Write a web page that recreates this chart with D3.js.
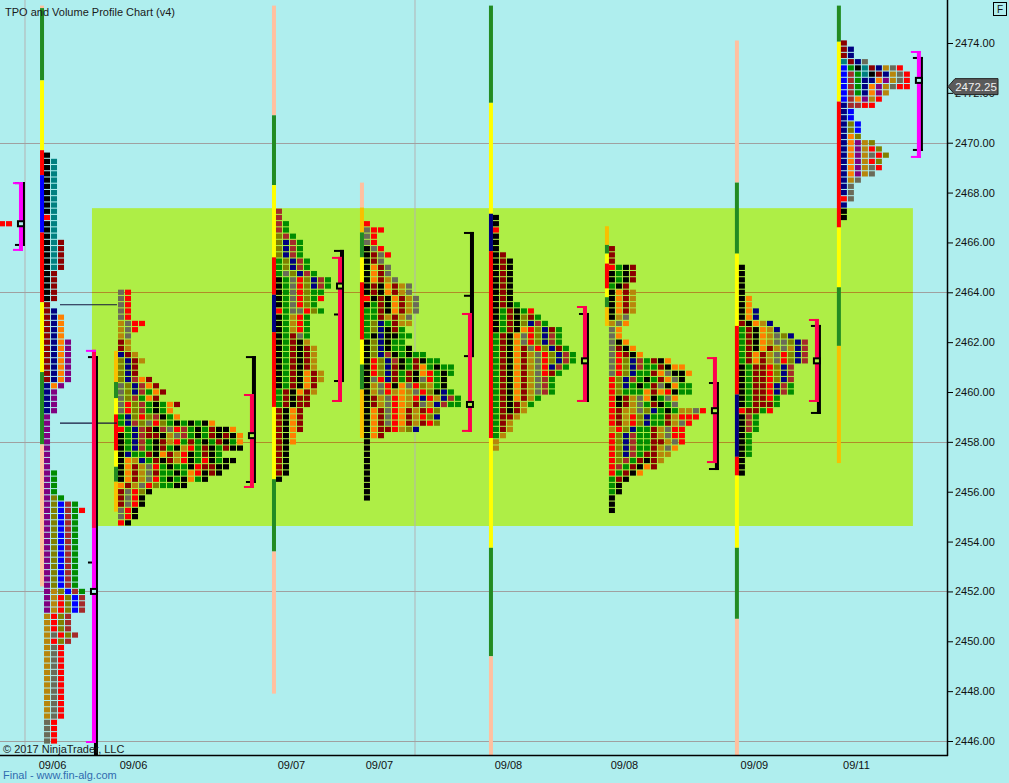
<!DOCTYPE html>
<html>
<head>
<meta charset="utf-8">
<script src="https://cdn.jsdelivr.net/npm/d3@7"></script>
<style>
  html, body { margin: 0; padding: 0; background: #afeeee; overflow: hidden; }
  svg { display: block; font-family: Arial, "Liberation Sans", sans-serif; }
</style>
</head>
<body>
<svg id="chart" width="1009" height="783"></svg>
<script>
// --- axes ---
const priceTicks = [2446, 2448, 2450, 2452, 2454, 2456, 2458, 2460, 2462, 2464, 2466, 2468, 2470, 2472, 2474];
const dateLabels = ["09/06", "09/06", "09/07", "09/07", "09/08", "09/08", "09/09", "09/11"];
const dateCols = [7.43, 19, 41.57, 54.14, 72.57, 89.14, 107.71, 122.29];

// --- profiles (Z = the one cut off on the left) ---
const profileCols = [-0.14, 6.29, 16.86, 39.43, 52, 70.43, 87, 105.57, 120.14];
const profileTops = [2466.75, 2469.5, 2464, 2467.25, 2466.75, 2467, 2465.75, 2465, 2474];

// rows as [row count, period letters] from the top price down, 0.25 per row
const tpoZ = [[1, "rr"]];
const tpoA = [[1, "k"], [9, "kt"], [1, "rt"], [3, "kt"], [5, "ktR"], [5, "kR"], [1, "R"], [1, "Rn"], [4, "Rno"],
  [7, "Rnop"], [1, "nop"], [4, "np"], [9, "p"], [4, "pg"], [1, "pvg"], [1, "pvbBg"], [1, "pvbBgr"], [12, "pvbBg"],
  [1, "pyvbBg"], [3, "pyrvbB"], [3, "yrvB"], [1, "yGrvB"], [1, "yrvB"], [12, "yGr"], [4, "Gr"]];
const tpoB = [[5, "Gr"], [1, "yGrr"], [1, "yGr"], [1, "yG"], [2, "Ry"], [1, "nRy"], [1, "vnRy"], [2, "vnR"],
  [1, "vnBoR"], [1, "GvnBoR"], [1, "GvnBgoR"], [1, "GvBgoR"], [1, "GrvBgkgoR"], [1, "GrvBgkgo"], [1, "gnvrvBkgo"],
  [1, "gnBvGrvgkgkgko"], [1, "rgnBRkBGrBgkgRkko"], [1, "kgnBRRkyGBgkgRkRko"], [1, "kgnBgkRyrgRgkgRkgo"],
  [1, "kgnBgkRgkyrgRkgRkk"], [1, "knggRkoRyrkgRkg"], [1, "koyngRkRyrkgrkgkk"], [1, "koRyGrgkggkrRRkk"],
  [1, "koRyGRggkgorkRk"], [1, "koRyGrgkgkogk"], [1, "oRyGrvggkk"], [1, "RGrvk"], [2, "RGrk"], [2, "Grk"], [1, "rk"]];
const tpoC = [[2, "B"], [2, "Bg"], [1, "vBg"], [3, "vnBg"], [2, "gvnBg"], [1, "gGvnBg"], [2, "kgGrvnBg"],
  [1, "kgGrvgg"], [1, "kgGrvgr"], [1, "kgGrvg"], [1, "rgGGrvg"], [3, "kgyrg"], [1, "kgRGg"], [1, "kgRky"],
  [4, "kgRkRy"], [2, "kgRkoRy"], [1, "kgRkoR"], [1, "gRkoRy"], [2, "gRkRR"], [4, "RkoR"], [2, "Rko"], [5, "Rk"], [1, "k"]];
const tpoD = [[1, "r"], [1, "Grr"], [2, "Gr"], [1, "kGr"], [1, "kRGr"], [1, "kRG"], [2, "koRG"], [1, "koRyG"],
  [2, "kRkoRyG"], [1, "rkRkoRyG"], [1, "kgRkoRyG"], [1, "ggRkoRyG"], [1, "ggRyRyG"], [1, "gvngRyy"], [1, "gvnkRg"],
  [1, "gknkkgg"], [1, "kvnkgg"], [1, "kvnkggk"], [1, "kvnBkgkgg"], [1, "krvnBkgRkgg"], [1, "krvnRkgRogkgg"],
  [1, "krvnRgRkorgkg"], [1, "kGrnRgRkGrgk"], [1, "kyGrkoGrvygk"], [1, "kyGryoyGrvkng"], [1, "kRyGroyrnrynBg"],
  [1, "kRyGroyRGynBgg"], [1, "koRGroRyRrv"], [1, "koRGroRyrvn"], [1, "koRGroRyRrv"], [1, "koRRryvn"], [1, "koR"], [10, "k"]];
const tpoE = [[2, "k"], [1, "r"], [3, "k"], [1, "kR"], [7, "kRk"], [1, "kRkg"], [1, "kgRkgr"], [1, "kgRkvRg"],
  [1, "kgRkvnBg"], [1, "kgRkorvnRg"], [2, "gRkoGrvnBg"], [1, "gRkoRGrvnRg"], [2, "gRkoRyGrvnBg"], [1, "gRkoRyGrnBg"],
  [1, "gRkoRyGrRg"], [3, "gRkoRyGBg"], [1, "gRkoRyg"], [1, "gRkRyg"], [1, "gRkRy"], [1, "gRRy"], [2, "gRy"], [1, "gy"], [2, "y"]];
const tpoF = [[3, "R"], [1, "rgkR"], [2, "kgkR"], [1, "gkR"], [4, "koRy"], [1, "kyG"], [1, "yGo"], [2, "Go"], [1, "Gko"],
  [1, "GRko"], [1, "GrRko"], [1, "GrvnBgRko"], [1, "GrvnBggRkoo"], [1, "GrvnggRoGkko"], [1, "rvnBgkgRoGk"],
  [1, "rvngkgRGkogg"], [1, "rvgggoRorkgg"], [1, "rkRyGokgGo"], [1, "rkRyGgRkgG"], [1, "rRyyGvngkgyyGr"],
  [1, "rRyrvnggRyrrr"], [1, "rRyrvnggRyGr"], [1, "yrvnggRyGrr"], [1, "rvnBggRyGrr"], [1, "rvnBggRRyGr"],
  [1, "rvnBggRyGo"], [1, "rvnBgRRyy"], [1, "rvBgRkRy"], [1, "rBgRkoR"], [1, "rgRko"], [1, "gRk"], [2, "gk"], [3, "k"]];
const tpoG = [[5, "k"], [2, "ko"], [2, "kon"], [1, "Rkoyn"], [1, "gRkoyn"], [1, "gRkoyGvn"], [1, "gRkoyGGvnB"],
  [1, "gRkoRyGynB"], [2, "gRoRyGrvnB"], [3, "kgRRrvnB"], [2, "kgRRrnBg"], [1, "kgRRrg"], [1, "kgRRRg"],
  [1, "rRRgr"], [3, "kBg"], [4, "kg"], [3, "k"]];
const tpoH = [[1, "R"], [2, "Rn"], [1, "tRnG"], [1, "bgktRnyGr"], [1, "bBgtkRnyGr"], [1, "bBgnnopyGr"],
  [1, "bBgnopyGrr"], [1, "bBgnopy"], [1, "bBopyr"], [1, "nBBrr"], [2, "nb"], [2, "nvb"], [1, "nov"], [1, "nopyv"],
  [1, "nopyrv"], [1, "nopyGrv"], [1, "nopyrv"], [1, "nopyGr"], [1, "nopyG"], [1, "nyG"], [2, "nG"], [1, "rG"], [1, "n"], [2, "k"]];
const tpoRows = [tpoZ, tpoA, tpoB, tpoC, tpoD, tpoE, tpoF, tpoG, tpoH];

// range bar beside each profile: [high, low, colour letter]
const barZ = [];
const barA = [[2475.5, 2475.4, "P"], [2475.4, 2472.5, "F"], [2472.5, 2469.7, "Y"], [2469.7, 2468.7, "r"], [2468.7, 2466.4, "b"],
  [2466.4, 2463.6, "r"], [2463.6, 2460.8, "Y"], [2460.8, 2457.9, "F"], [2457.9, 2452.2, "P"]];
const barB = [[2461.65, 2460.4, "O"], [2460.4, 2459.75, "F"], [2459.75, 2459.1, "Y"], [2459.1, 2457.65, "r"],
  [2457.65, 2457.0, "Y"], [2457.0, 2456.4, "F"], [2456.4, 2455.2, "O"]];
const barC = [[2475.5, 2471.1, "P"], [2471.1, 2468.3, "F"], [2468.3, 2465.4, "Y"], [2465.4, 2463.9, "r"], [2463.9, 2462.4, "n"],
  [2462.4, 2459.4, "r"], [2459.4, 2456.5, "Y"], [2456.5, 2453.6, "F"], [2453.6, 2447.9, "P"]];
const barD = [[2468.4, 2467.4, "P"], [2467.4, 2466.4, "O"], [2466.4, 2465.4, "F"], [2465.4, 2464.4, "Y"], [2464.4, 2462.1, "r"],
  [2462.1, 2461.1, "Y"], [2461.1, 2460.1, "F"], [2460.1, 2458.15, "O"]];
const barE = [[2475.5, 2471.6, "F"], [2471.6, 2467.15, "Y"], [2467.15, 2465.65, "n"], [2465.65, 2458.15, "r"],
  [2458.15, 2453.75, "Y"], [2453.75, 2449.4, "F"], [2449.4, 2445.3, "P"]];
const barF = [[2466.65, 2465.9, "O"], [2465.9, 2465.55, "F"], [2465.55, 2465.15, "Y"], [2465.15, 2464.15, "r"],
  [2464.15, 2463.8, "Y"], [2463.8, 2463.4, "F"], [2463.4, 2462.65, "O"]];
const barG = [[2474.1, 2468.4, "P"], [2468.4, 2465.55, "F"], [2465.55, 2462.65, "Y"], [2462.65, 2459.9, "r"], [2459.9, 2457.4, "n"],
  [2457.4, 2456.65, "r"], [2456.65, 2453.75, "Y"], [2453.75, 2450.9, "F"], [2450.9, 2445.3, "P"]];
const barH = [[2475.5, 2474.05, "F"], [2474.05, 2471.65, "Y"], [2471.65, 2466.6, "r"], [2466.6, 2464.2, "Y"],
  [2464.2, 2461.85, "F"], [2461.85, 2457.15, "O"]];
const rangeBars = [barZ, barA, barB, barC, barD, barE, barF, barG, barH];

// value area brackets and POC
const bracketCols = [2.71, 13.14, 35.71, 48.29, 66.86, 83.29, 101.86, 116.43, 131];
const vaHigh = [2468.42, 2461.69, 2459.92, 2465.42, 2463.17, 2463.45, 2461.4, 2462.93, 2473.68];
const vaLow = [2465.66, 2445.92, 2456.15, 2459.6, 2458.4, 2459.6, 2457.15, 2459.6, 2469.39];
const vaKind = ["m", "m", "c", "c", "c", "c", "c", "c", "m"];
const vaCrimsonTo = [null, 2454.55, null, null, null, null, null, null, null];
const tpoVaHigh = [2468.42, 2461.44, 2461.44, 2465.7, 2466.42, 2463.17, 2460.4, 2462.69, 2473.44];
const tpoVaLow = [2465.86, 2445.0, 2456.35, 2460.4, 2461.4, 2459.6, 2456.87, 2459.12, 2469.67];
const tpoMidTicks = [[], [2453.2], [], [2463.15], [2463.9], [], [], [], []];
const pocPrices = [2466.75, 2452, 2458.25, 2464.25, 2459.5, 2461.25, 2459.25, 2461.25, 2472.5];

// extended lines from profile A
const extLines = [[2463.5, 8.57, 16.71], [2458.75, 8.57, 16.71]];

// reference levels
const gridLevels = [2470, 2464, 2458, 2452, 2446];
const zoneLevels = [2464, 2458];
const separatorCols = [3.57, 59.29];
const zonePrices = [2454.625, 2467.375];
const zoneCols = [13.14, 130.43];
const lastPrice = 2472.25;

const tpoColors = { k: "#000000", r: "#ff0000", R: "#8b0000", g: "#008c00", G: "#6b6b58", o: "#ff8000",
  y: "#b8860b", v: "#808000", n: "#000080", b: "#0000ff", t: "#008080", p: "#800080", B: "#a52a2a" };
const barColors = { P: "#ffc0a0", F: "#228b22", Y: "#ffff00", r: "#ff0000", b: "#0000ff", n: "#000080", O: "#f8c000" };
const vaColors = { m: "#ff00ff", c: "#ff0050" };

const W = 947, H = 755;
const svg = d3.select("#chart");
const x = d3.scaleLinear().domain([0, 135.3]).range([0, W]);
const y = d3.scaleLinear().domain([2446, 2474]).range([741, 43]);
const colW = x(1) - x(0);
const rowH = y(0) - y(0.25);

svg.append("rect").attr("width", 1009).attr("height", 783).attr("fill", "#afeeee");

svg.append("defs").append("clipPath").attr("id", "plot")
  .append("rect").attr("width", W).attr("height", H);

const plot = svg.append("g").attr("clip-path", "url(#plot)");

// value zone
plot.append("rect")
  .attr("x", x(zoneCols[0])).attr("width", x(zoneCols[1]) - x(zoneCols[0]))
  .attr("y", y(zonePrices[1])).attr("height", y(zonePrices[0]) - y(zonePrices[1]))
  .attr("fill", "#aeee46");

plot.selectAll(".sep").data(separatorCols).join("line")
  .attr("x1", d => x(d)).attr("x2", d => x(d)).attr("y1", 0).attr("y2", H)
  .attr("stroke", "#b4b4b4").attr("stroke-width", 1);

plot.selectAll(".gl").data(gridLevels).join("line")
  .attr("x1", 0).attr("x2", W).attr("y1", d => Math.round(y(d)) + 0.5).attr("y2", d => Math.round(y(d)) + 0.5)
  .attr("stroke", "#a0a0a0").attr("stroke-width", 1);

plot.selectAll(".zl").data(zoneLevels).join("line")
  .attr("x1", x(zoneCols[0])).attr("x2", x(zoneCols[1]))
  .attr("y1", d => Math.round(y(d)) + 0.5).attr("y2", d => Math.round(y(d)) + 0.5)
  .attr("stroke", "#b08c28").attr("stroke-width", 1);

// range bars
rangeBars.forEach((segs, i) => {
  plot.append("g").selectAll("rect").data(segs).join("rect")
    .attr("x", x(profileCols[i]) - 4).attr("width", 4)
    .attr("y", d => y(d[0])).attr("height", d => y(d[1]) - y(d[0]))
    .attr("fill", d => barColors[d[2]]);
});

// TPO blocks
tpoRows.forEach((runs, i) => {
  const cells = [];
  let row = 0;
  runs.forEach(([n, codes]) => {
    for (let k = 0; k < n; k++) {
      const price = profileTops[i] - 0.25 * row;
      codes.split("").forEach((c, j) => cells.push({ price, j, c }));
      row++;
    }
  });
  plot.append("g").selectAll("rect").data(cells).join("rect")
    .attr("x", d => x(profileCols[i] + d.j))
    .attr("width", colW - 1)
    .attr("y", d => y(d.price + 0.125) + 0.5)
    .attr("height", rowH - 1)
    .attr("fill", d => tpoColors[d.c]);
});

plot.selectAll(".ext").data(extLines).join("line")
  .attr("x1", d => x(d[1])).attr("x2", d => x(d[2]))
  .attr("y1", d => y(d[0])).attr("y2", d => y(d[0]))
  .attr("stroke", "#14143c").attr("stroke-width", 1.2);

// brackets
bracketCols.forEach((c, i) => {
  const bx = x(c);
  const g = plot.append("g");
  // black (TPO value area)
  g.append("rect").attr("x", bx + 2).attr("width", 4)
    .attr("y", y(tpoVaHigh[i])).attr("height", y(tpoVaLow[i]) - y(tpoVaHigh[i])).attr("fill", "#000");
  [tpoVaHigh[i], ...tpoMidTicks[i]].forEach(p =>
    g.append("rect").attr("x", bx - 4).attr("width", 10).attr("y", y(p)).attr("height", 2).attr("fill", "#000"));
  g.append("rect").attr("x", bx - 4).attr("width", 10).attr("y", y(tpoVaLow[i]) - 2).attr("height", 2).attr("fill", "#000");
  // volume value area
  const col = vaColors[vaKind[i]];
  g.append("rect").attr("x", bx).attr("width", 4)
    .attr("y", y(vaHigh[i])).attr("height", y(vaLow[i]) - y(vaHigh[i])).attr("fill", col);
  if (vaCrimsonTo[i] !== null) {
    g.append("rect").attr("x", bx).attr("width", 4)
      .attr("y", y(vaHigh[i])).attr("height", y(vaCrimsonTo[i]) - y(vaHigh[i])).attr("fill", vaColors.c);
  }
  g.append("rect").attr("x", bx - 6).attr("width", 10).attr("y", y(vaHigh[i])).attr("height", 2).attr("fill", col);
  g.append("rect").attr("x", bx - 6).attr("width", 10).attr("y", y(vaLow[i]) - 2).attr("height", 2).attr("fill", col);
  // POC square
  const p = pocPrices[i];
  const inZone = p > zonePrices[0] && p < zonePrices[1] && c > zoneCols[0] && c < zoneCols[1];
  g.append("rect").attr("x", bx - 1).attr("y", y(p) - 2.5).attr("width", 6).attr("height", 5)
    .attr("fill", inZone ? "#aeee46" : "#afeeee").attr("stroke", "#000").attr("stroke-width", 2);
});

// frame
svg.append("line").attr("x1", W + 0.5).attr("x2", W + 0.5).attr("y1", 0).attr("y2", H + 1)
  .attr("stroke", "#000").attr("stroke-width", 1.5);
svg.append("line").attr("x1", 0).attr("x2", W + 1).attr("y1", H + 0.5).attr("y2", H + 0.5)
  .attr("stroke", "#000").attr("stroke-width", 1.5);

// price axis
const yAxis = svg.append("g").attr("transform", `translate(${W},0)`)
  .call(d3.axisRight(y).tickValues(priceTicks).tickFormat(d3.format(".2f")).tickSize(6).tickPadding(2));
yAxis.select(".domain").remove();
yAxis.selectAll("line").attr("stroke", "#000");
yAxis.selectAll("text").attr("font-size", 11).attr("fill", "#111").attr("font-family", "Arial, 'Liberation Sans', sans-serif");

// date axis
const xAxis = svg.append("g").attr("transform", `translate(0,${H})`)
  .call(d3.axisBottom(x).tickValues(dateCols).tickFormat((d, i) => dateLabels[i]).tickSize(0).tickPadding(6));
xAxis.select(".domain").remove();
xAxis.selectAll("text").attr("font-size", 11).attr("fill", "#111").attr("font-family", "Arial, 'Liberation Sans', sans-serif");

// last price marker
const ly = y(lastPrice);
svg.append("path")
  .attr("d", `M${W + 1},${ly} L${W + 8},${ly - 8} L${W + 51},${ly - 8} L${W + 51},${ly + 8} L${W + 8},${ly + 8} Z`)
  .attr("fill", "#5a5a5a").attr("stroke", "#222").attr("stroke-width", 1);
svg.append("text").attr("x", W + 29).attr("y", ly + 4).attr("text-anchor", "middle")
  .attr("font-size", 11.5).attr("fill", "#f0f0f0").text(lastPrice.toFixed(2));

// F box
svg.append("rect").attr("x", 993.5).attr("y", 2.5).attr("width", 13).attr("height", 13)
  .attr("fill", "none").attr("stroke", "#000");
svg.append("text").attr("x", 1000).attr("y", 13).attr("text-anchor", "middle")
  .attr("font-size", 10).attr("fill", "#111").text("F");

svg.append("text").attr("x", 5).attr("y", 16).attr("font-size", 11).attr("fill", "#1a1a1a")
  .text("TPO and Volume Profile Chart (v4)");
svg.append("text").attr("x", 3).attr("y", 753).attr("font-size", 11).attr("fill", "#1a1a1a")
  .text("© 2017 NinjaTrader, LLC");
svg.append("text").attr("x", 3).attr("y", 779).attr("font-size", 11).attr("fill", "#2f6cb0")
  .text("Final - www.fin-alg.com");
</script>
</body>
</html>
